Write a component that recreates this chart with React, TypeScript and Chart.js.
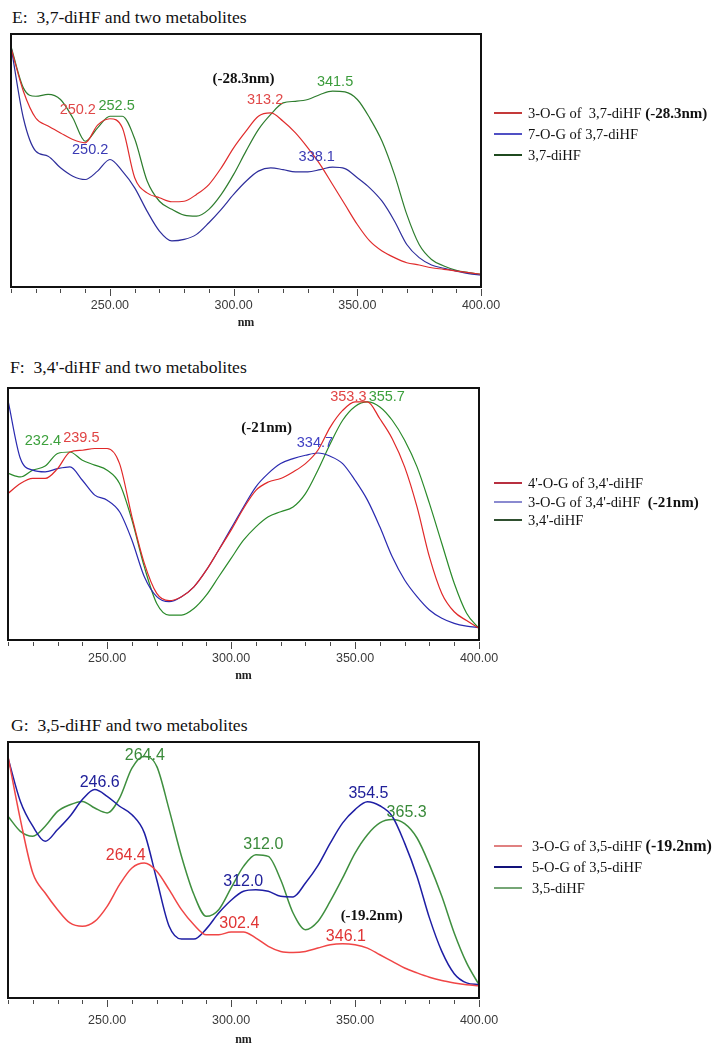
import React, { useEffect, useRef } from 'react';
import { Chart, registerables } from 'chart.js';

Chart.register(...registerables);

// ---------- data ----------
const wavelengths = [
  210, 215, 220, 225, 230, 235, 240, 245, 250, 255,
  260, 265, 270, 275, 280, 285, 290, 295, 300, 305,
  310, 315, 320, 325, 330, 335, 340, 345, 350, 355,
  360, 365, 370, 375, 380, 385, 390, 395, 400,
];
const majorTicks = [250, 300, 350, 400];

// Panel E: 3,7-diHF
const e_3OG = [
  0.945, 0.774, 0.668, 0.636, 0.609, 0.583, 0.570, 0.640, 0.665, 0.629,
  0.432, 0.372, 0.353, 0.337, 0.339, 0.366, 0.405, 0.471, 0.550, 0.616,
  0.675, 0.688, 0.655, 0.609, 0.550, 0.484, 0.405, 0.326, 0.247, 0.182,
  0.142, 0.116, 0.096, 0.087, 0.076, 0.070, 0.063, 0.057, 0.050,
];
const e_7OG = [
  0.951, 0.668, 0.537, 0.517, 0.471, 0.438, 0.425, 0.458, 0.504, 0.458,
  0.392, 0.300, 0.221, 0.182, 0.188, 0.208, 0.254, 0.307, 0.366, 0.418,
  0.458, 0.471, 0.464, 0.455, 0.455, 0.464, 0.474, 0.468, 0.432, 0.392,
  0.339, 0.261, 0.168, 0.116, 0.087, 0.074, 0.063, 0.053, 0.047,
];
const e_parent = [
  0.951, 0.787, 0.754, 0.761, 0.741, 0.668, 0.576, 0.629, 0.675, 0.675,
  0.586, 0.420, 0.339, 0.307, 0.284, 0.280, 0.307, 0.366, 0.445, 0.537,
  0.622, 0.682, 0.728, 0.734, 0.741, 0.761, 0.774, 0.771, 0.741, 0.668,
  0.576, 0.445, 0.287, 0.168, 0.109, 0.083, 0.066, 0.057, 0.050,
];

// Panel F: 3,4'-diHF
const f_4OG = [
  0.581, 0.621, 0.641, 0.641, 0.680, 0.746, 0.753, 0.760, 0.760, 0.700,
  0.489, 0.304, 0.185, 0.156, 0.172, 0.211, 0.277, 0.357, 0.436, 0.522,
  0.594, 0.627, 0.641, 0.667, 0.700, 0.753, 0.845, 0.911, 0.945, 0.945,
  0.878, 0.799, 0.687, 0.528, 0.330, 0.185, 0.112, 0.077, 0.046,
];
const f_3OG = [
  0.951, 0.720, 0.674, 0.667, 0.680, 0.687, 0.634, 0.575, 0.555, 0.509,
  0.396, 0.251, 0.172, 0.152, 0.172, 0.211, 0.277, 0.357, 0.443, 0.528,
  0.608, 0.661, 0.700, 0.720, 0.733, 0.742, 0.729, 0.700, 0.634, 0.555,
  0.449, 0.330, 0.238, 0.172, 0.119, 0.086, 0.066, 0.055, 0.049,
];
const f_parent = [
  0.661, 0.647, 0.674, 0.690, 0.740, 0.746, 0.713, 0.694, 0.674, 0.621,
  0.476, 0.290, 0.145, 0.099, 0.099, 0.125, 0.178, 0.251, 0.324, 0.396,
  0.449, 0.489, 0.509, 0.528, 0.581, 0.674, 0.779, 0.872, 0.927, 0.945,
  0.925, 0.872, 0.793, 0.687, 0.542, 0.383, 0.225, 0.106, 0.046,
];

// Panel G: 3,5-diHF
const g_3OG = [
  0.944, 0.697, 0.488, 0.410, 0.345, 0.293, 0.280, 0.299, 0.358, 0.443,
  0.508, 0.527, 0.495, 0.423, 0.345, 0.286, 0.247, 0.247, 0.258, 0.258,
  0.234, 0.202, 0.182, 0.178, 0.182, 0.195, 0.208, 0.212, 0.208, 0.195,
  0.169, 0.143, 0.117, 0.098, 0.081, 0.068, 0.059, 0.052, 0.048,
];
const g_5OG = [
  0.938, 0.768, 0.671, 0.612, 0.658, 0.710, 0.775, 0.814, 0.788, 0.749,
  0.716, 0.645, 0.462, 0.280, 0.230, 0.230, 0.270, 0.332, 0.382, 0.417,
  0.423, 0.417, 0.397, 0.395, 0.449, 0.517, 0.605, 0.684, 0.736, 0.767,
  0.751, 0.710, 0.605, 0.475, 0.313, 0.182, 0.095, 0.059, 0.052,
];
const g_parent = [
  0.710, 0.651, 0.632, 0.671, 0.729, 0.755, 0.768, 0.742, 0.723, 0.781,
  0.898, 0.944, 0.905, 0.736, 0.553, 0.404, 0.319, 0.345, 0.430, 0.514,
  0.560, 0.553, 0.462, 0.332, 0.267, 0.299, 0.378, 0.469, 0.566, 0.638,
  0.684, 0.697, 0.681, 0.625, 0.521, 0.397, 0.254, 0.137, 0.052,
];

// peak labels: text, wavelength (nm), relative absorbance, which series colour
const e_peakText = ['(-28.3nm)', '341.5', '313.2', '250.2', '252.5', '250.2', '338.1'];
const e_peakNm = [304, 341, 312.7, 237, 252.7, 242, 333.6];
const e_peakVal = [0.82, 0.81, 0.74, 0.70, 0.714, 0.54, 0.513];
const e_peakKey = ['note', 'c', 'a', 'a', 'c', 'b', 'b'];

const f_peakText = ['353.3', '355.7', '(-21nm)', '334.7', '232.4', '239.5'];
const f_peakNm = [347.3, 362.8, 314.3, 333.8, 224.1, 239.6];
const f_peakVal = [0.964, 0.964, 0.839, 0.782, 0.789, 0.802];
const f_peakKey = ['a', 'c', 'note', 'b', 'c', 'a'];

const g_peakText = ['264.4', '246.6', '354.5', '365.3', '312.0', '264.4', '312.0', '(-19.2nm)', '302.4', '346.1'];
const g_peakNm = [265.2, 247, 355.4, 370.8, 313, 257.5, 304.9, 356.7, 303.3, 346.3];
const g_peakVal = [0.947, 0.842, 0.797, 0.725, 0.599, 0.556, 0.456, 0.319, 0.289, 0.241];
const g_peakKey = ['c', 'b', 'b', 'c', 'c', 'a', 'b', 'note', 'a', 'a'];

// ---------- styling / layout ----------
const SERIF = '"Liberation Serif", "Times New Roman", serif';
const SANS = '"Liberation Sans", Arial, sans-serif';
const CANVAS_W = 510;

type PanelCfg = {
  title: string;
  titleLeft: number;
  titleTop: number;
  boxLeft: number;
  boxRight: number;
  boxTop: number;
  boxBottom: number;
  tickPad: number;
  axisH: number;
  lineWidth: number;
  labelSize: number;
  series: { values: number[]; color: string; key: string; labelColor: string }[];
  peaks: { text: string[]; nm: number[]; val: number[]; key: string[] };
  legend: { text: string; bold?: string; line: string; center: number }[];
  legendLeft: number;
  legendSize: number;
  legendBoldSize: number;
};

const panels: PanelCfg[] = [
  {
    title: 'E:  3,7-diHF and two metabolites',
    titleLeft: 12, titleTop: 9,
    boxLeft: 11, boxRight: 481, boxTop: 34, boxBottom: 287,
    tickPad: 11, axisH: 43, lineWidth: 1.2, labelSize: 14.5,
    series: [
      { values: e_3OG, color: '#e02c2c', key: 'a', labelColor: '#e04848' },
      { values: e_7OG, color: '#2e2e9c', key: 'b', labelColor: '#3a3ab4' },
      { values: e_parent, color: '#2e7d2e', key: 'c', labelColor: '#3c9c3c' },
    ],
    peaks: { text: e_peakText, nm: e_peakNm, val: e_peakVal, key: e_peakKey },
    legend: [
      { text: '3-O-G of  3,7-diHF ', bold: '(-28.3nm)', line: '#c43a3a', center: 113 },
      { text: '7-O-G of 3,7-diHF', line: '#5050c4', center: 134 },
      { text: '3,7-diHF', line: '#1f4a1f', center: 155 },
    ],
    legendLeft: 528, legendSize: 14.5, legendBoldSize: 15,
  },
  {
    title: "F:  3,4'-diHF and two metabolites",
    titleLeft: 10, titleTop: 359,
    boxLeft: 8, boxRight: 479, boxTop: 388, boxBottom: 640,
    tickPad: 11, axisH: 43, lineWidth: 1.2, labelSize: 14.5,
    series: [
      { values: f_4OG, color: '#e02828', key: 'a', labelColor: '#e04444' },
      { values: f_3OG, color: '#2a2ab0', key: 'b', labelColor: '#4040c4' },
      { values: f_parent, color: '#2a8a2a', key: 'c', labelColor: '#3ca03c' },
    ],
    peaks: { text: f_peakText, nm: f_peakNm, val: f_peakVal, key: f_peakKey },
    legend: [
      { text: "4'-O-G of 3,4'-diHF", line: '#b83040', center: 483 },
      { text: "3-O-G of 3,4'-diHF  ", bold: '(-21nm)', line: '#8a8ad0', center: 502 },
      { text: "3,4'-diHF", line: '#2f4f2f', center: 520 },
    ],
    legendLeft: 528, legendSize: 14.5, legendBoldSize: 15,
  },
  {
    title: 'G:  3,5-diHF and two metabolites',
    titleLeft: 11, titleTop: 717,
    boxLeft: 8, boxRight: 479, boxTop: 742, boxBottom: 998,
    tickPad: 15, axisH: 49, lineWidth: 1.5, labelSize: 16,
    series: [
      { values: g_3OG, color: '#f04646', key: 'a', labelColor: '#e03434' },
      { values: g_5OG, color: '#1e1ea4', key: 'b', labelColor: '#20209a' },
      { values: g_parent, color: '#3f8f3f', key: 'c', labelColor: '#3a8a3a' },
    ],
    peaks: { text: g_peakText, nm: g_peakNm, val: g_peakVal, key: g_peakKey },
    legend: [
      { text: '3-O-G of 3,5-diHF ', bold: '(-19.2nm)', line: '#e08080', center: 846 },
      { text: '5-O-G of 3,5-diHF', line: '#12127a', center: 867 },
      { text: '3,5-diHF', line: '#76a676', center: 888 },
    ],
    legendLeft: 532, legendSize: 14.5, legendBoldSize: 16,
  },
];

const framePlugin = {
  id: 'frame',
  afterDraw(chart: any) {
    const { ctx, chartArea } = chart;
    const xs = chart.scales.x;
    ctx.save();
    ctx.strokeStyle = '#4a4a4a';
    ctx.lineWidth = 1;
    xs.ticks.forEach((t: any) => {
      const px = Math.round(xs.getPixelForValue(t.value)) + 0.5;
      const major = majorTicks.includes(t.value);
      ctx.beginPath();
      ctx.moveTo(px, chartArea.bottom + 2);
      ctx.lineTo(px, chartArea.bottom + (major ? 9 : 6));
      ctx.stroke();
    });
    ctx.strokeStyle = '#111';
    ctx.lineWidth = 2;
    ctx.strokeRect(chartArea.left, chartArea.top, chartArea.right - chartArea.left, chartArea.bottom - chartArea.top);
    ctx.restore();
  },
};

function peakPlugin(cfg: PanelCfg) {
  return {
    id: 'peaks',
    afterDatasetsDraw(chart: any) {
      const { ctx } = chart;
      const xs = chart.scales.x;
      const ys = chart.scales.y;
      ctx.save();
      ctx.textAlign = 'center';
      ctx.textBaseline = 'middle';
      cfg.peaks.text.forEach((txt, i) => {
        const key = cfg.peaks.key[i];
        if (key === 'note') {
          ctx.font = `bold 15px ${SERIF}`;
          ctx.fillStyle = '#111';
        } else {
          ctx.font = `${cfg.labelSize}px ${SANS}`;
          ctx.fillStyle = cfg.series.find((s) => s.key === key)!.labelColor;
        }
        ctx.fillText(txt, xs.getPixelForValue(cfg.peaks.nm[i]), ys.getPixelForValue(cfg.peaks.val[i]));
      });
      ctx.restore();
    },
  };
}

function Panel({ cfg }: { cfg: PanelCfg }) {
  const ref = useRef<HTMLCanvasElement>(null);
  const padTop = 10;
  const canvasTop = cfg.boxTop - padTop;
  const canvasH = cfg.boxBottom - canvasTop + cfg.axisH;

  useEffect(() => {
    const chart = new Chart(ref.current!, {
      type: 'line',
      data: {
        datasets: cfg.series.map((s) => ({
          data: s.values.map((v, i) => ({ x: wavelengths[i], y: v })),
          borderColor: s.color,
          borderWidth: cfg.lineWidth,
          pointRadius: 0,
          fill: false,
          cubicInterpolationMode: 'monotone' as const,
        })),
      },
      options: {
        animation: false,
        responsive: false,
        maintainAspectRatio: false,
        events: [],
        layout: {
          padding: { left: cfg.boxLeft, right: CANVAS_W - cfg.boxRight, top: padTop, bottom: 0 },
        },
        plugins: { legend: { display: false }, tooltip: { enabled: false }, title: { display: false } },
        scales: {
          x: {
            type: 'linear',
            min: 210,
            max: 400,
            grid: { display: false, drawTicks: true, tickLength: cfg.tickPad },
            border: { display: false },
            ticks: {
              stepSize: 10,
              autoSkip: false,
              maxRotation: 0,
              padding: 0,
              color: '#3a3a3a',
              font: { family: SANS, size: 12.5 },
              callback: (v: any) => (majorTicks.includes(Number(v)) ? Number(v).toFixed(2) : ''),
            },
            title: {
              display: true,
              text: 'nm',
              color: '#222',
              font: { family: SERIF, size: 12, weight: 'bold' },
              padding: { top: 0, bottom: 0 },
            },
            afterFit: (scale: any) => {
              scale.height = cfg.axisH;
            },
          },
          y: { display: false, min: 0, max: 1 },
        },
      },
      plugins: [framePlugin, peakPlugin(cfg)],
    } as any);
    return () => chart.destroy();
  }, [cfg]);

  return (
    <>
      <div
        style={{
          position: 'absolute',
          left: cfg.titleLeft,
          top: cfg.titleTop,
          fontFamily: SERIF,
          fontSize: 17.6,
          lineHeight: '17px',
          whiteSpace: 'pre',
          color: '#111',
        }}
      >
        {cfg.title}
      </div>
      <canvas
        ref={ref}
        width={CANVAS_W}
        height={canvasH}
        style={{ position: 'absolute', left: 0, top: canvasTop, width: CANVAS_W, height: canvasH }}
      />
      {cfg.legend.map((row, i) => (
        <React.Fragment key={i}>
          <div
            style={{
              position: 'absolute',
              left: 494,
              top: row.center - 0.75,
              width: 28,
              height: 1.5,
              background: row.line,
            }}
          />
          <div
            style={{
              position: 'absolute',
              left: cfg.legendLeft,
              top: row.center - 9,
              height: 18,
              lineHeight: '18px',
              fontFamily: SERIF,
              fontSize: cfg.legendSize,
              whiteSpace: 'pre',
              color: '#111',
            }}
          >
            {row.text}
            {row.bold ? <span style={{ fontWeight: 'bold', fontSize: cfg.legendBoldSize }}>{row.bold}</span> : null}
          </div>
        </React.Fragment>
      ))}
    </>
  );
}

export default function App() {
  return (
    <div style={{ position: 'absolute', left: 0, top: 0, width: 714, height: 1050, background: '#fff', overflow: 'hidden' }}>
      {panels.map((p, i) => (
        <Panel key={i} cfg={p} />
      ))}
    </div>
  );
}
